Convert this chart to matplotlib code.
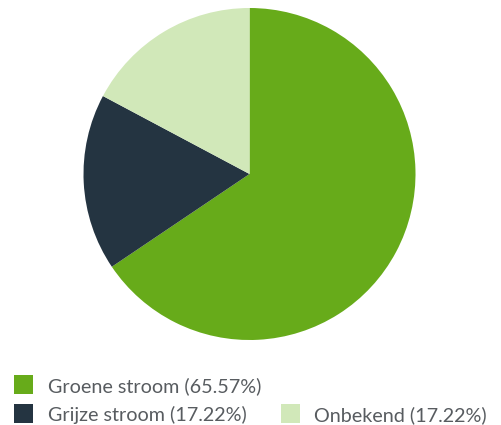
import matplotlib.pyplot as plt
from matplotlib.patches import Rectangle

labels = ['Groene stroom', 'Grijze stroom', 'Onbekend']
shares = [65.57, 17.22, 17.22]
colors = ['#67ab1a', '#243441', '#d1e8b9']

W, H = 501, 425
fig = plt.figure(figsize=(W / 100, H / 100), dpi=100)

# pie axes placed in pixels: center (249.5, 174 from top), radius 166
cx, cy, r = 249.5, H - 174, 166
ax = fig.add_axes([(cx - r) / W, (cy - r) / H, 2 * r / W, 2 * r / H])
ax.pie(shares, colors=colors, startangle=90, counterclock=False,
       wedgeprops=dict(linewidth=0, antialiased=True))
ax.set_xlim(-1, 1)
ax.set_ylim(-1, 1)
ax.set_aspect('equal')
ax.axis('off')

# legend laid out by hand (flow layout like the original)
slots = [(14, 384.5), (14, 413.5), (280.5, 413.5)]
box = 19
for lab, val, col, (x, y) in zip(labels, shares, colors, slots):
    fig.patches.append(Rectangle((x / W, (H - y - box / 2) / H), box / W, box / H,
                                 transform=fig.transFigure, facecolor=col,
                                 edgecolor='none'))
    fig.text((x + box + 14.5) / W, (H - y) / H, f'{lab} ({val:.2f}%)',
             family='Lato', fontsize=14.2, color='#585c60',
             va='center_baseline', ha='left')

fig.savefig('out.png', dpi=100)
